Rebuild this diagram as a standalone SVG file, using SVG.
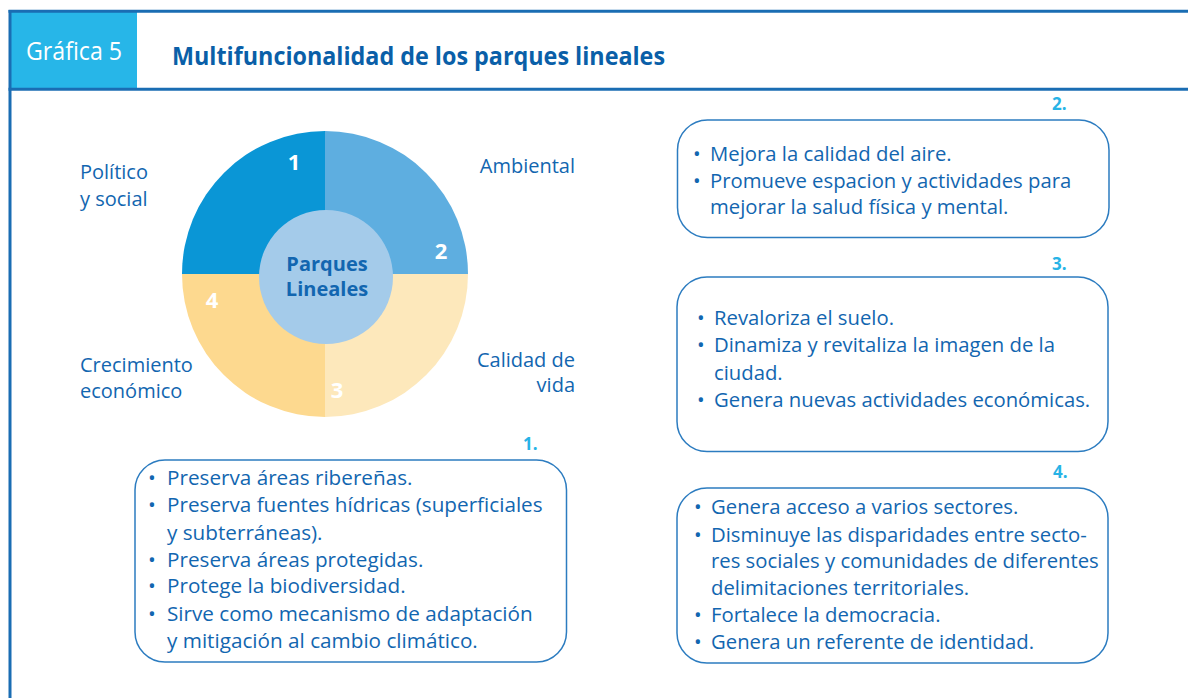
<svg xmlns="http://www.w3.org/2000/svg" width="1188" height="698" viewBox="0 0 1188 698">
<style>
.t{font-family:"Open Sans","Noto Sans","Liberation Sans",sans-serif;fill:#1266b0;font-size:20px}
.s1{font-size:20.7px}
.s2{font-size:20.3px}
.b{font-weight:bold}
.num{font-family:"Open Sans","Liberation Sans",sans-serif;font-weight:bold;fill:#ffffff;font-size:22px;text-anchor:middle}
.idx{font-family:"Open Sans","Liberation Sans",sans-serif;font-weight:bold;fill:#27b3e6;font-size:17px}
.box{fill:#ffffff;stroke:#2c7cc0;stroke-width:1.5}
.frame{stroke:#1a6db3;stroke-width:3;fill:none}
</style>
<rect width="1188" height="698" fill="#ffffff"/>
<g id="header">
<rect x="10" y="11" width="127" height="78" fill="#27b6e8"/>
<line class="frame" x1="8.5" y1="11.3" x2="1188" y2="11.3"/>
<line class="frame" x1="8.5" y1="89.3" x2="1188" y2="89.3"/>
<line class="frame" x1="10" y1="10" x2="10" y2="698"/>
<text x="26" y="60" font-family="Open Sans, Liberation Sans, sans-serif" font-size="26" fill="#ffffff" textLength="96" lengthAdjust="spacingAndGlyphs">Gráfica 5</text>
<text x="172" y="65" font-family="Open Sans, Liberation Sans, sans-serif" font-size="24.5" font-weight="bold" fill="#0a5fa8" textLength="493" lengthAdjust="spacingAndGlyphs">Multifuncionalidad de los parques lineales</text>
</g>
<g id="wheel">
<path d="M325,274 L182,274 A143,143 0 0 1 325,131 Z" fill="#0a96d6"/>
<path d="M325,274 L325,131 A143,143 0 0 1 468,274 Z" fill="#5eaee0"/>
<path d="M325,274 L468,274 A143,143 0 0 1 325,417 Z" fill="#fde8bb"/>
<path d="M325,274 L325,417 A143,143 0 0 1 182,274 Z" fill="#fdd98f"/>
<circle cx="326" cy="277" r="67" fill="#a4cbea"/>
<text class="num" x="294" y="170">1</text>
<text class="num" x="441" y="259">2</text>
<text class="num" x="337" y="398">3</text>
<text class="num" x="212" y="308">4</text>
<text class="t b" x="327" y="271" font-size="16.5" text-anchor="middle">Parques</text>
<text class="t b" x="327" y="295.5" font-size="16.5" text-anchor="middle">Lineales</text>
</g>
<g id="labels">
<text class="t" x="80" y="179">Político</text>
<text class="t" x="80" y="206">y social</text>
<text class="t" x="575" y="173" text-anchor="end">Ambiental</text>
<text class="t" x="575" y="367" text-anchor="end">Calidad de</text>
<text class="t" x="575" y="392" text-anchor="end">vida</text>
<text class="t" x="80" y="372">Crecimiento</text>
<text class="t" x="80" y="398">económico</text>
</g>
<g id="box1">
<text class="idx" x="523" y="450">1.</text>
<rect class="box" x="135" y="460" width="431.5" height="202" rx="30"/>
<text class="t s1" x="148" y="485">•</text><text class="t s1" x="167" y="485">Preserva áreas ribereñas.</text>
<text class="t s1" x="148" y="512">•</text><text class="t s1" x="167" y="512">Preserva fuentes hídricas (superficiales</text>
<text class="t s1" x="167" y="540">y subterráneas).</text>
<text class="t s1" x="148" y="567">•</text><text class="t s1" x="167" y="567">Preserva áreas protegidas.</text>
<text class="t s1" x="148" y="593">•</text><text class="t s1" x="167" y="593">Protege la biodiversidad.</text>
<text class="t s1" x="148" y="621">•</text><text class="t s1" x="167" y="621">Sirve como mecanismo de adaptación</text>
<text class="t s1" x="167" y="648">y mitigación al cambio climático.</text>
</g>
<g id="box2">
<text class="idx" x="1052" y="110">2.</text>
<rect class="box" x="677.5" y="120" width="431.5" height="117.5" rx="30"/>
<text class="t s2" x="693" y="161">•</text><text class="t s2" x="710" y="161">Mejora la calidad del aire.</text>
<text class="t s2" x="693" y="188">•</text><text class="t s2" x="710" y="188">Promueve espacion y actividades para</text>
<text class="t s2" x="710" y="214">mejorar la salud física y mental.</text>
</g>
<g id="box3">
<text class="idx" x="1052" y="270">3.</text>
<rect class="box" x="677" y="277" width="431" height="174.5" rx="30"/>
<text class="t s2" x="697" y="325">•</text><text class="t s2" x="714" y="325">Revaloriza el suelo.</text>
<text class="t s2" x="697" y="352">•</text><text class="t s2" x="714" y="352">Dinamiza y revitaliza la imagen de la</text>
<text class="t s2" x="714" y="380">ciudad.</text>
<text class="t s2" x="697" y="407">•</text><text class="t s2" x="714" y="407">Genera nuevas actividades económicas.</text>
</g>
<g id="box4">
<text class="idx" x="1053" y="478">4.</text>
<rect class="box" x="677" y="488" width="431" height="175" rx="30"/>
<text class="t s2" x="694" y="514">•</text><text class="t s2" x="711" y="514">Genera acceso a varios sectores.</text>
<text class="t s2" x="694" y="542">•</text><text class="t s2" x="711" y="542">Disminuye las disparidades entre secto-</text>
<text class="t s2" x="711" y="568">res sociales y comunidades de diferentes</text>
<text class="t s2" x="711" y="595">delimitaciones territoriales.</text>
<text class="t s2" x="694" y="622">•</text><text class="t s2" x="711" y="622">Fortalece la democracia.</text>
<text class="t s2" x="694" y="649">•</text><text class="t s2" x="711" y="649">Genera un referente de identidad.</text>
</g>
</svg>
